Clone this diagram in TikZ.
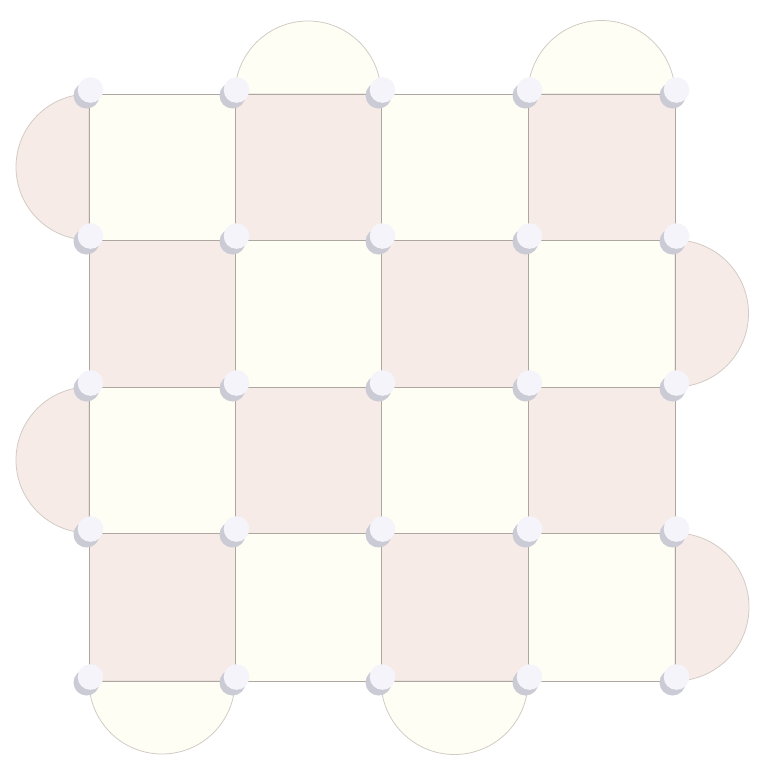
\documentclass[tikz,border=0pt]{standalone}
\usetikzlibrary{calc}
\begin{document}
\begin{tikzpicture}[x=1pt,y=-1pt,
  pinkc/.style={fill=pinkfill},
  yelc/.style={fill=yelfill},
  semi/.style={draw=semiline,line width=0.8pt},
  gridl/.style={draw=gridline,line width=1pt},
  dotshadow/.style={fill=dotgray},
  dotlight/.style={fill=dotwhite}]
\definecolor{pinkfill}{HTML}{F6EBE7}
\definecolor{yelfill}{HTML}{FEFEF4}
\definecolor{semiline}{HTML}{D2CBC5}
\definecolor{gridline}{HTML}{ADA6A1}
\definecolor{dotgray}{HTML}{CBCBD6}
\definecolor{dotwhite}{HTML}{F4F4FA}
\useasboundingbox (0,0) rectangle (776,782);
\def\xs{{89,235,381,528,675}}
\def\ys{{94,240,387,533,681}}
% vertices
\foreach \i in {0,...,4}{
  \foreach \j in {0,...,4}{
    \pgfmathsetmacro{\xx}{\xs[\i]}
    \pgfmathsetmacro{\yy}{\ys[\j]}
    \coordinate (v\i\j) at (\xx,\yy);
  }
}
% squares
\foreach \i in {0,...,3}{
  \foreach \j in {0,...,3}{
    \pgfmathtruncatemacro{\ii}{\i+1}
    \pgfmathtruncatemacro{\jj}{\j+1}
    \pgfmathtruncatemacro{\parity}{mod(\i+\j,2)}
    \ifnum\parity=0
      \fill[yelc] (v\i\j) rectangle (v\ii\jj);
    \else
      \fill[pinkc] (v\i\j) rectangle (v\ii\jj);
    \fi
  }
}
% semicircles top (yellow)
\draw[semi,yelc] (v10) arc[start angle=180,end angle=360,radius=73] -- cycle;
\draw[semi,yelc] (v30) arc[start angle=180,end angle=360,radius=73.5] -- cycle;
% bottom (yellow)
\draw[semi,yelc] (v04) arc[start angle=180,end angle=0,radius=73] -- cycle;
\draw[semi,yelc] (v24) arc[start angle=180,end angle=0,radius=73.5] -- cycle;
% left (pink)
\draw[semi,pinkc] (v00) arc[start angle=270,end angle=90,radius=73] -- cycle;
\draw[semi,pinkc] (v02) arc[start angle=270,end angle=90,radius=73] -- cycle;
% right (pink)
\draw[semi,pinkc] (v41) arc[start angle=270,end angle=450,radius=73.5] -- cycle;
\draw[semi,pinkc] (v43) arc[start angle=270,end angle=450,radius=74] -- cycle;
% grid lines
\foreach \i in {0,...,4}{
  \draw[gridl] (v\i0) -- (v\i4);
  \draw[gridl] (v0\i) -- (v4\i);
}
% dots
\foreach \i in {0,...,4}{
  \foreach \j in {0,...,4}{
    \fill[dotshadow] ($(v\i\j)+(-2.5,1.5)$) circle[radius=13];
    \fill[dotlight] ($(v\i\j)+(1.5,-4)$) circle[radius=12.8];
  }
}
\end{tikzpicture}
\end{document}
